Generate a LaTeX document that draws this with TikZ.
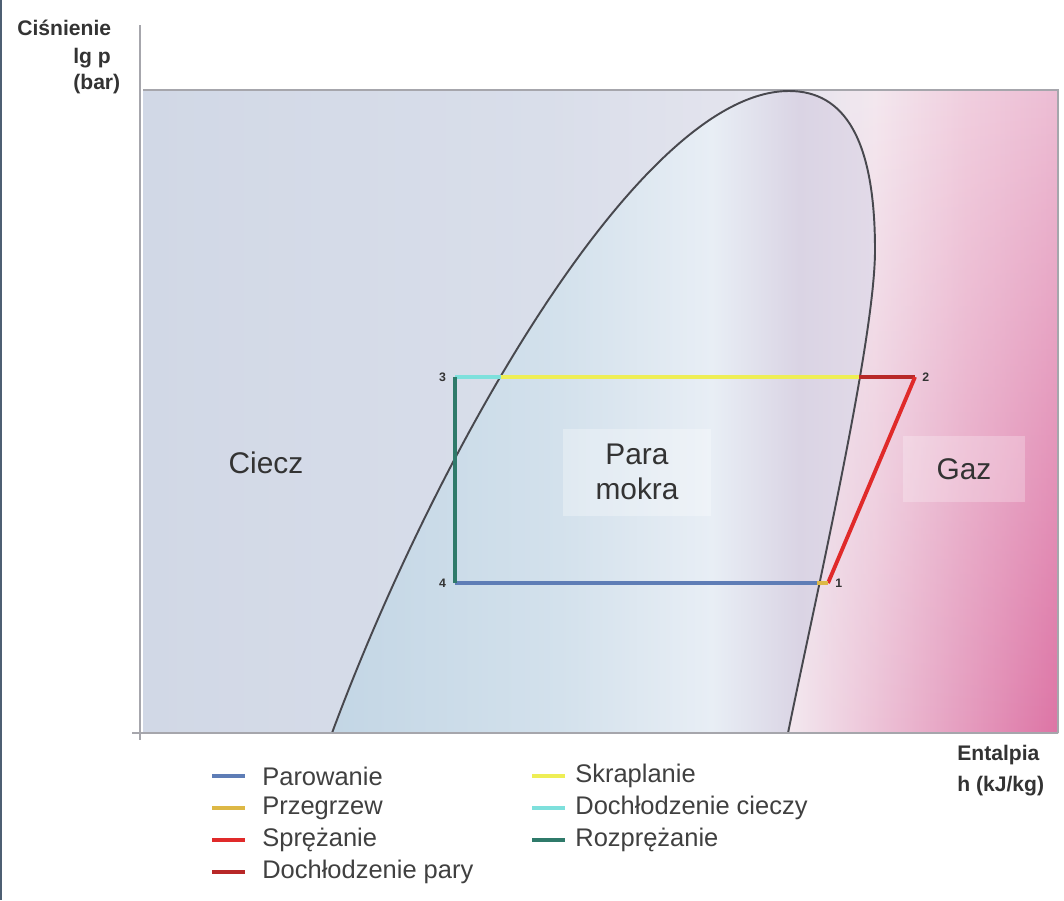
\documentclass[tikz,border=0pt]{standalone}
\usepackage{fontspec}
\setmainfont{Liberation Sans}
\usetikzlibrary{positioning,fadings}

\definecolor{BgLeft}{HTML}{D1D8E6}
\definecolor{BgMid}{HTML}{D9DEEA}
\definecolor{BgLight}{HTML}{E8E6EF}
\definecolor{BgWhite}{HTML}{F4E8EF}
\definecolor{BgPink}{HTML}{F1CFDF}
\definecolor{BgRight}{HTML}{EDBDD4}
\definecolor{PinkDeep}{HTML}{DD74A5}
\definecolor{DomeA}{HTML}{C3D6E5}
\definecolor{DomeB}{HTML}{D3E1EC}
\definecolor{DomeC}{HTML}{E8EEF5}
\definecolor{DomeD}{HTML}{DAD4E4}
\definecolor{DomeE}{HTML}{E2DAE8}
\definecolor{DomeLine}{HTML}{48484E}
\definecolor{AxisGray}{HTML}{A6A6AC}
\definecolor{EdgeBlue}{HTML}{4E5F73}
\definecolor{TextDark}{HTML}{333333}
\definecolor{LegendGray}{HTML}{404040}
\definecolor{EvapBlue}{HTML}{5E7DB6}
\definecolor{SuperGold}{HTML}{DDB845}
\definecolor{CompRed}{HTML}{E02A2A}
\definecolor{DesupRed}{HTML}{B82828}
\definecolor{CondYellow}{HTML}{EEEE55}
\definecolor{SubCyan}{HTML}{7EE0DC}
\definecolor{ExpTeal}{HTML}{2F7A6A}

\pgfdeclarehorizontalshading{BackShade}{100bp}{color(0bp)=(BgLeft); color(25bp)=(BgLeft);
  color(47bp)=(BgMid); color(62bp)=(BgLight); color(65bp)=(BgWhite);
  color(70bp)=(BgPink); color(75bp)=(BgRight); color(100bp)=(BgRight)}
\pgfdeclarehorizontalshading{DomeShade}{100bp}{color(0bp)=(DomeA); color(25bp)=(DomeA);
  color(46bp)=(DomeB); color(60bp)=(DomeC); color(68bp)=(DomeD);
  color(75bp)=(DomeE); color(100bp)=(DomeE)}
\tikzfading[name=FadeUp, top color=transparent!100, bottom color=transparent!0]

\begin{document}
\begin{tikzpicture}[x=0.02cm, y=-0.02cm,
    CycleLine/.style={line width=2.2pt},
    AxisLine/.style={draw=AxisGray, line width=1.6pt},
    RegionLabel/.style={text=TextDark, font=\fontsize{17}{20}\selectfont, align=center},
    AxisLabel/.style={text=TextDark, font=\fontsize{12}{14}\selectfont\bfseries, inner sep=0pt, anchor=west},
    PointLabel/.style={text=TextDark, font=\fontsize{7}{8}\selectfont\bfseries, inner sep=0pt},
    LegendText/.style={text=LegendGray, font=\fontsize{14.5}{17}\selectfont, inner sep=0pt, anchor=west},
    Swatch/.style={minimum width=0.66cm, minimum height=0.08cm, inner sep=0pt},
    ]
    \useasboundingbox (0,0) rectangle (1064,900);
    \fill[white] (0,0) rectangle (1064,900);
    \fill[EdgeBlue] (0,0) rectangle (2,900);

    % background of the chart
    \shade[shading=BackShade] (143,90) rectangle (1058,733);
    \shade[left color=BgWhite, right color=PinkDeep, path fading=FadeUp] (790,90) rectangle (1058,733);
    \draw[draw=AxisGray, line width=1.3pt] (143,90) -- (1058,90) -- (1058,733);

    % saturation dome
    \shadedraw[shading=DomeShade, draw=DomeLine, line width=1.1pt]
        (332,733) .. controls (435,455) and (640,91) .. (789,91)
        .. controls (845,91) and (875,140) .. (875,250)
        .. controls (875,340) and (815,600) .. (788,733);

    % axes
    \coordinate (AxisTop) at (140,25);
    \coordinate (AxisBottom) at (140,740);
    \coordinate (AxisLeft) at (132,733);
    \coordinate (AxisRight) at (1058,733);
    \draw[AxisLine] (AxisTop) -- (AxisBottom);
    \draw[AxisLine] (AxisLeft) -- (AxisRight);

    % cycle
    \coordinate (Point1) at (828,583);
    \coordinate (Point2) at (915,377);
    \coordinate (Point3) at (455,377);
    \coordinate (Point4) at (455,583);
    \coordinate (SatLiquid) at (501,377);
    \coordinate (SatVapour) at (859,377);
    \coordinate (SatEvap) at (817,583);
    \draw[CycleLine, SubCyan] (Point3) -- (SatLiquid);
    \draw[CycleLine, CondYellow] (SatLiquid) -- (SatVapour);
    \draw[CycleLine, DesupRed] (SatVapour) -- (Point2);
    \draw[CycleLine, CompRed, line join=round] (Point2) -- (Point1);
    \draw[CycleLine, EvapBlue] (Point4) -- (SatEvap);
    \draw[CycleLine, SuperGold] (SatEvap) -- (Point1);
    \draw[CycleLine, ExpTeal] (Point3) -- (Point4);

    \node[PointLabel, left=5pt of Point3] (Label3) {3};
    \node[PointLabel, left=5pt of Point4] (Label4) {4};
    \node[PointLabel, right=4pt of Point1] (Label1) {1};
    \node[PointLabel, right=4pt of Point2] (Label2) {2};

    % regions
    \node[RegionLabel] (Ciecz) at (266,463) {Ciecz};
    \node[RegionLabel, fill=white, fill opacity=0.3, text opacity=1,
        minimum width=2.98cm, minimum height=1.74cm] (ParaMokra) at (637,472) {Para\\mokra};
    \node[RegionLabel, fill=white, fill opacity=0.25, text opacity=1,
        minimum width=2.44cm, minimum height=1.32cm] (Gaz) at (964,469) {Gaz};

    % axis labels
    \node[AxisLabel] (PressureName) at (17,28) {Ciśnienie};
    \node[AxisLabel] (PressureSymbol) at (73,58) {lg p};
    \node[AxisLabel] (PressureUnit) at (73,84) {(bar)};
    \node[AxisLabel] (EnthalpyName) at (957,755) {Entalpia};
    \node[AxisLabel] (EnthalpyUnit) at (957,786) {h (kJ/kg)};

    % legend
    \node[LegendText] (LegParowanie) at (262,776) {Parowanie};
    \node[LegendText] (LegPrzegrzew) at (262,808) {Przegrzew};
    \node[LegendText] (LegSprezanie) at (262,840) {Sprężanie};
    \node[LegendText] (LegDochPary) at (262,872) {Dochłodzenie pary};
    \node[LegendText] (LegSkraplanie) at (575,776) {Skraplanie};
    \node[LegendText] (LegDochCieczy) at (575,808) {Dochłodzenie cieczy};
    \node[LegendText] (LegRozprezanie) at (575,840) {Rozprężanie};
    \node[Swatch, fill=EvapBlue, left=0.34cm of LegParowanie] (SwParowanie) {};
    \node[Swatch, fill=SuperGold, left=0.34cm of LegPrzegrzew] (SwPrzegrzew) {};
    \node[Swatch, fill=CompRed, left=0.34cm of LegSprezanie] (SwSprezanie) {};
    \node[Swatch, fill=DesupRed, left=0.34cm of LegDochPary] (SwDochPary) {};
    \node[Swatch, fill=CondYellow, left=0.2cm of LegSkraplanie] (SwSkraplanie) {};
    \node[Swatch, fill=SubCyan, left=0.2cm of LegDochCieczy] (SwDochCieczy) {};
    \node[Swatch, fill=ExpTeal, left=0.2cm of LegRozprezanie] (SwRozprezanie) {};
\end{tikzpicture}
\end{document}
